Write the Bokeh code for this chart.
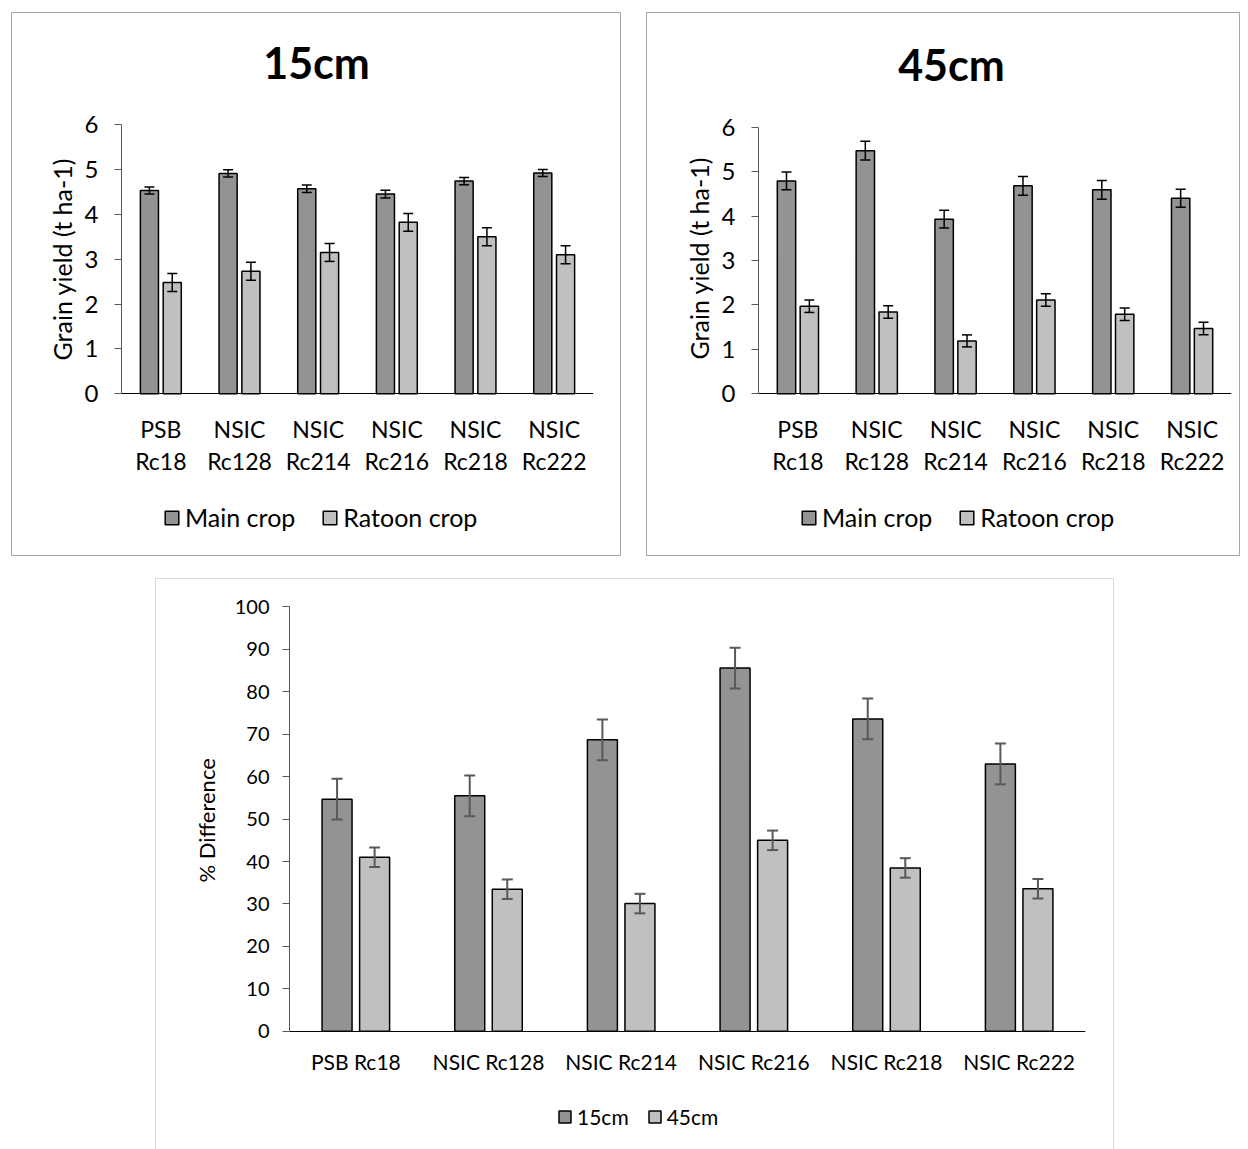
from bokeh.plotting import figure
from bokeh.models import (ColumnDataSource, FactorRange, Range1d, FixedTicker,
                          Whisker, TeeHead, Legend, LegendItem, Label, Title)
from bokeh.transform import dodge
from bokeh.layouts import column, row
from bokeh.embed import file_html
from bokeh.resources import INLINE

# ---------------- data ----------------
varieties = ["PSB Rc18", "NSIC Rc128", "NSIC Rc214", "NSIC Rc216", "NSIC Rc218", "NSIC Rc222"]
varieties_2line = ["PSB\nRc18", "NSIC\nRc128", "NSIC\nRc214", "NSIC\nRc216", "NSIC\nRc218", "NSIC\nRc222"]

main_15 = [4.53, 4.91, 4.57, 4.45, 4.74, 4.92]
main_15_err = [0.08, 0.08, 0.085, 0.085, 0.08, 0.08]
ratoon_15 = [2.48, 2.73, 3.15, 3.82, 3.50, 3.10]
ratoon_15_err = [0.20, 0.20, 0.20, 0.20, 0.20, 0.20]

main_45 = [4.79, 5.47, 3.93, 4.68, 4.59, 4.40]
main_45_err = [0.20, 0.21, 0.20, 0.21, 0.21, 0.20]
ratoon_45 = [1.97, 1.84, 1.19, 2.11, 1.79, 1.47]
ratoon_45_err = [0.14, 0.14, 0.135, 0.14, 0.14, 0.14]

pct_15 = [54.7, 55.5, 68.7, 85.6, 73.6, 63.0]
pct_15_err = [4.8, 4.8, 4.8, 4.8, 4.8, 4.8]
pct_45 = [41.0, 33.5, 30.1, 45.0, 38.5, 33.6]
pct_45_err = [2.3, 2.3, 2.3, 2.3, 2.3, 2.3]

yield_ticks = [0, 1, 2, 3, 4, 5, 6]
pct_ticks = [0, 10, 20, 30, 40, 50, 60, 70, 80, 90, 100]

DARK = "#939393"
LIGHT = "#c0c0c0"
FONT = "Lato"


def chart(factors, a, ae, b, be, names, *, width, height, borders, y_view, y_max, ticks,
          bar_w, off, err_color, err_w, cap, tick_fs, cat_fs, leg_fs, ylab, ylab_fs,
          ylab_offset, title, title_pos, border_shadow, cat_standoff, cat_lh, leg_loc,
          leg_glyph, leg_spacing, ylab_standoff, ytick_standoff):
    src = ColumnDataSource(dict(
        cat=factors, a=a, b=b,
        a_lo=[v - e for v, e in zip(a, ae)], a_hi=[v + e for v, e in zip(a, ae)],
        b_lo=[v - e for v, e in zip(b, be)], b_hi=[v + e for v, e in zip(b, be)],
    ))
    left, right, top, bottom = borders
    p = figure(x_range=FactorRange(*factors, range_padding=0, factor_padding=0),
               y_range=Range1d(*y_view), width=width, height=height,
               output_backend="svg", toolbar_location=None, title=None,
               min_border_left=left, min_border_right=right,
               min_border_top=top, min_border_bottom=bottom)
    p.border_fill_color = None
    p.background_fill_color = None
    p.outline_line_color = None
    p.styles = {"background-color": "white", "box-shadow": border_shadow}
    p.xgrid.visible = False
    p.ygrid.visible = False

    r1 = p.vbar(x=dodge("cat", -off, range=p.x_range), top="a", width=bar_w, source=src,
                fill_color=DARK, line_color="black", line_width=1.5)
    r2 = p.vbar(x=dodge("cat", off, range=p.x_range), top="b", width=bar_w, source=src,
                fill_color=LIGHT, line_color="black", line_width=1.5)
    for base, lo, hi in ((-off, "a_lo", "a_hi"), (off, "b_lo", "b_hi")):
        w = Whisker(source=src, base=dodge("cat", base, range=p.x_range), lower=lo, upper=hi,
                    line_color=err_color, line_width=err_w, level="overlay",
                    upper_head=TeeHead(size=cap, line_color=err_color, line_width=err_w),
                    lower_head=TeeHead(size=cap, line_color=err_color, line_width=err_w))
        p.add_layout(w)

    ya = p.yaxis[0]
    ya.ticker = FixedTicker(ticks=ticks)
    ya.bounds = (0, y_max)
    ya.minor_tick_line_color = None
    ya.major_tick_in = 0
    ya.major_tick_out = 7
    ya.axis_line_color = "#595959"
    ya.major_tick_line_color = "#595959"
    ya.major_label_text_font = FONT
    ya.major_label_text_font_size = tick_fs
    ya.major_label_text_color = "black"
    ya.major_label_standoff = ytick_standoff

    # axis title, placed along the 0..max stretch of the axis
    p.add_layout(Title(text=ylab, align="left", offset=ylab_offset, standoff=ylab_standoff,
                       text_font=FONT, text_font_size=ylab_fs, text_font_style="normal",
                       text_color="black"), "left")

    xa = p.xaxis[0]
    xa.fixed_location = 0
    xa.major_tick_line_color = None
    xa.major_tick_out = 0
    xa.major_tick_in = 0
    xa.axis_line_color = "black"
    xa.axis_line_width = 1.2
    xa.major_label_text_font = FONT
    xa.major_label_text_font_size = cat_fs
    xa.major_label_text_color = "black"
    xa.major_label_standoff = cat_standoff
    xa.major_label_text_line_height = cat_lh

    if title is not None:
        p.add_layout(Label(x=title_pos[0], y=title_pos[1], text=title,
                           text_font=FONT, text_font_size="43px", text_font_style="bold",
                           text_color="black", text_align="center", text_baseline="middle"))

    legend = Legend(items=[LegendItem(label=names[0], renderers=[r1]),
                           LegendItem(label=names[1], renderers=[r2])],
                    orientation="horizontal", location=leg_loc,
                    label_text_font=FONT, label_text_font_size=leg_fs,
                    label_text_color="black",
                    glyph_width=leg_glyph, glyph_height=leg_glyph,
                    label_standoff=5, spacing=leg_spacing, padding=0, margin=0,
                    border_line_color=None, background_fill_alpha=0)
    p.add_layout(legend)
    return p


TOP_BORDER = "inset 0 0 0 1px #a6a6a6"
BOTTOM_BORDER = "inset 1px 0 0 0 #d9d9d9, inset -1px 0 0 0 #d9d9d9, inset 0 1px 0 0 #d9d9d9"

p1 = chart(varieties_2line, main_15, main_15_err, ratoon_15, ratoon_15_err,
           ["Main crop", "Ratoon crop"], width=610, height=544, borders=(110, 28, 0, 0),
           y_view=(-3.625, 8.496), y_max=6, ticks=yield_ticks,
           bar_w=0.23, off=0.145, err_color="black", err_w=1.5,
           cap=10, tick_fs="24px", cat_fs="23px", leg_fs="25px",
           ylab="Grain yield (t ha-1)", ylab_fs="25px", ylab_offset=196,
           title="15cm", title_pos=(2.479, 7.38),
           border_shadow=TOP_BORDER, cat_standoff=21, cat_lh=1.16, leg_loc=(42, 24),
           leg_glyph=17, leg_spacing=26, ylab_standoff=9, ytick_standoff=16)

p2 = chart(varieties_2line, main_45, main_45_err, ratoon_45, ratoon_45_err,
           ["Main crop", "Ratoon crop"], width=594, height=544, borders=(112, 9, 0, 0),
           y_view=(-3.662, 8.58), y_max=6, ticks=yield_ticks,
           bar_w=0.233, off=0.145, err_color="black", err_w=1.5,
           cap=10, tick_fs="24px", cat_fs="23px", leg_fs="25px",
           ylab="Grain yield (t ha-1)", ylab_fs="25px", ylab_offset=197,
           title="45cm", title_pos=(2.448, 7.42),
           border_shadow=TOP_BORDER, cat_standoff=21, cat_lh=1.16, leg_loc=(42, 24),
           leg_glyph=17, leg_spacing=26, ylab_standoff=9, ytick_standoff=16)

p3 = chart(varieties, pct_15, pct_15_err, pct_45, pct_45_err,
           ["15cm", "45cm"], width=959, height=571, borders=(134, 29, 0, 0),
           y_view=(-27.85, 106.7), y_max=100, ticks=pct_ticks,
           bar_w=0.226, off=0.1415, err_color="#595959", err_w=2,
           cap=11, tick_fs="20px", cat_fs="21px", leg_fs="21px",
           ylab="% Difference", ylab_fs="22px", ylab_offset=267,
           title=None, title_pos=None,
           border_shadow=BOTTOM_BORDER, cat_standoff=18, cat_lh=1.2, leg_loc=(268, 20),
           leg_glyph=15, leg_spacing=18, ylab_standoff=24, ytick_standoff=13)

p1.margin = (12, 0, 0, 11)
p2.margin = (12, 0, 0, 25)
p3.margin = (22, 0, 0, 155)

layout = column(row(p1, p2, spacing=0), p3, spacing=0)

with open("out.html", "w") as f:
    f.write(file_html(layout, INLINE))
